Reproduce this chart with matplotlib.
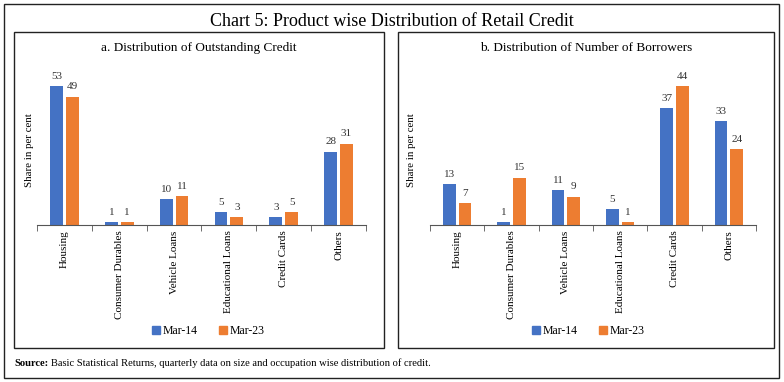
import numpy as np
import matplotlib
matplotlib.use('Agg')
import matplotlib.pyplot as plt
from matplotlib.patches import Rectangle, Patch

plt.rcParams['font.family'] = ['Liberation Serif', 'DejaVu Serif']

categories = ['Housing', 'Consumer Durables', 'Vehicle Loans',
              'Educational Loans', 'Credit Cards', 'Others']
series_names = ['Mar-14', 'Mar-23']

credit_mar14 = [53, 1, 10, 5, 3, 28]
credit_mar23 = [49, 1, 11, 3, 5, 31]
borrowers_mar14 = [13, 1, 11, 5, 37, 33]
borrowers_mar23 = [7, 15, 9, 1, 44, 24]

blue = '#4472C4'
orange = '#ED7D31'

W, H = 784, 382
fig = plt.figure(figsize=(W / 100, H / 100), dpi=100)


def px_rect(x0, y0, x1, y1):
    # pixel box (top-left origin) -> figure fraction rect
    return [x0 / W, 1 - y1 / H, (x1 - x0) / W, (y1 - y0) / H]


# outer frame and panel frames
for (x0, y0, x1, y1) in [(4, 4, 779, 378), (14, 32, 384, 348), (398, 32, 774, 348)]:
    fig.patches.append(Rectangle((x0 / W, 1 - y1 / H), (x1 - x0) / W, (y1 - y0) / H,
                                 transform=fig.transFigure, fill=False,
                                 edgecolor='#222222', linewidth=1.0))

fig.text(0.5, 1 - 21 / H, 'Chart 5: Product wise Distribution of Retail Credit',
         ha='center', va='center', fontsize=13)
fig.text(199 / W, 1 - 48 / H, 'a. Distribution of Outstanding Credit',
         ha='center', va='center', fontsize=9.5)
fig.text(586 / W, 1 - 48 / H, 'b. Distribution of Number of Borrowers',
         ha='center', va='center', fontsize=9.5)
src = fig.text(14 / W, 1 - 366 / H, 'Source:', ha='left', va='baseline',
               fontsize=7.6, fontweight='bold')
fig.canvas.draw()
fig.text(src.get_window_extent().x1 / W + 3 / W, 1 - 366 / H,
         'Basic Statistical Returns, quarterly data on size and occupation wise distribution of credit.',
         ha='left', va='baseline', fontsize=7.6)


def draw(rect, s1, s2, ytop, ylab_x):
    ax = fig.add_axes(px_rect(*rect))
    x = np.arange(len(categories))
    w = 0.235
    b1 = ax.bar(x - 0.145, s1, w, color=blue)
    b2 = ax.bar(x + 0.145, s2, w, color=orange)
    for bars in (b1, b2):
        for b in bars:
            ax.text(b.get_x() + b.get_width() / 2, b.get_height() + ytop * 0.035,
                    str(int(b.get_height())), ha='center', va='bottom',
                    fontsize=8, color='#333333')
    ax.set_xlim(-0.5, len(categories) - 0.5)
    ax.set_ylim(0, ytop)
    for s in ['top', 'right', 'left']:
        ax.spines[s].set_visible(False)
    ax.spines['bottom'].set_color('#555555')
    ax.set_yticks([])
    ax.set_xticks(x)
    ax.set_xticklabels(categories, rotation=90, fontsize=8)
    ax.tick_params(axis='x', which='major', length=0, pad=4)
    ax.set_xticks(np.arange(-0.5, len(categories), 1.0), minor=True)
    ax.tick_params(axis='x', which='minor', length=4, color='#555555')
    fig.text(ylab_x / W, 1 - 150 / H, 'Share in per cent', rotation=90,
             ha='center', va='center', fontsize=7.8)
    return ax


ax1 = draw((37, 75, 366, 225), credit_mar14, credit_mar23, 57.2, 29)
ax2 = draw((430, 75, 756, 225), borrowers_mar14, borrowers_mar23, 47.6, 412)

for cx in (208, 588):
    fig.legend(handles=[Patch(color=blue, label=series_names[0]),
                        Patch(color=orange, label=series_names[1])],
               loc='center', bbox_to_anchor=(cx / W, 1 - 331 / H), ncol=2,
               frameon=False, fontsize=8.5, handlelength=0.7, handleheight=0.7,
               handletextpad=0.2, columnspacing=1.8)

fig.savefig('out.png', dpi=100)
